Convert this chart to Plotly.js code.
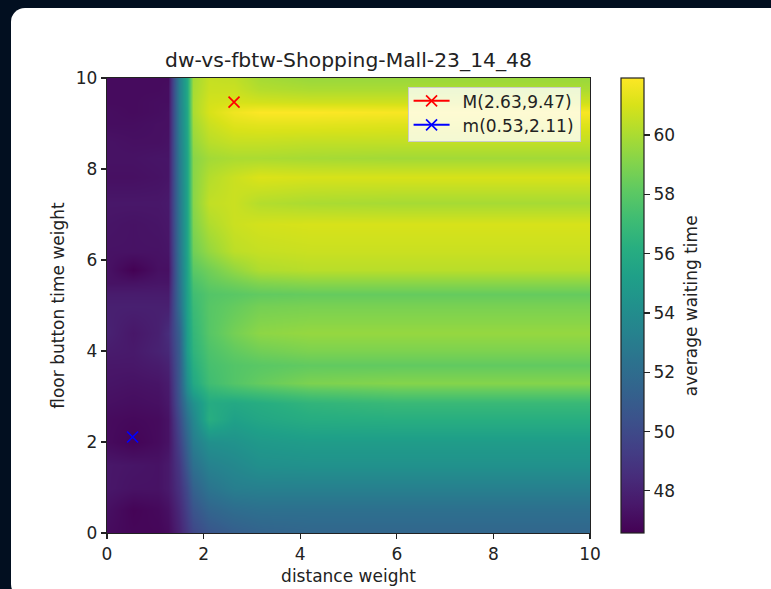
<!DOCTYPE html>
<html><head><meta charset="utf-8">
<script src="https://cdn.plot.ly/plotly-3.0.0.min.js"></script>
<style>
html,body{margin:0;padding:0;width:771px;height:589px;overflow:hidden;background:#020f20}
#card{position:absolute;left:11px;top:8px;width:775px;height:590px;background:#fff;border-radius:14px}
#plot{position:absolute;left:0;top:0;width:771px;height:589px}
</style></head><body>
<div id="card"></div><div id="plot"></div>
<script>
const chartTitle = 'dw-vs-fbtw-Shopping-Mall-23_14_48';
const distanceWeight = [0,0.53,1.05,1.26,1.5,1.66,1.78,2.11,2.63,3.16,4.2,6,10];
const floorWeight = [0,0.5,1,1.5,2,2.5,2.85,3.1,3.3,3.7,4,4.4,5,5.25,5.5,5.78,6.2,6.8,7.25,7.82,8.24,8.6,9,9.25,9.47,9.75,10];
const waitingTime = [
[47.0,46.8,46.8,47.0,48.0,49.0,49.8,50.6,51.1,51.4,51.6,51.6,51.6],
[47.2,46.7,46.9,47.2,48.3,49.5,50.5,51.5,52.0,52.2,52.2,52.2,52.2],
[47.5,47.3,47.3,47.6,48.7,50.0,51.3,52.5,53.1,53.2,53.2,53.2,53.2],
[47.5,47.4,47.3,47.6,49.0,50.8,52.2,53.3,53.7,54.2,54.3,54.3,54.3],
[47.0,46.7,47.0,47.3,49.5,51.5,53.0,54.2,54.4,54.8,55.0,55.0,55.0],
[47.0,46.9,47.0,47.3,50.0,52.3,53.6,56.2,55.3,55.7,56.1,56.2,56.2],
[47.2,47.1,47.2,47.5,50.5,53.0,54.2,56.0,55.8,56.1,56.6,56.9,56.9],
[47.3,47.2,47.3,47.6,50.7,53.8,55.2,56.6,57.0,57.3,57.8,58.1,58.1],
[47.4,47.3,47.4,47.7,50.8,54.2,55.8,57.2,57.8,58.3,58.9,59.1,59.1],
[47.5,47.5,47.7,48.0,50.9,54.6,56.2,57.4,57.8,58.0,58.2,58.2,58.2],
[47.7,47.6,48.0,48.3,51.0,55.0,56.5,57.6,58.2,58.6,58.9,58.9,58.9],
[48.0,47.5,47.9,48.5,51.2,55.1,56.7,57.9,58.7,59.3,59.5,59.5,59.5],
[47.9,47.9,47.9,47.9,52.0,55.3,57.0,57.9,58.3,58.7,58.8,58.8,58.8],
[47.7,47.7,47.7,47.7,52.1,55.3,57.2,57.8,58.0,58.2,58.3,58.3,58.3],
[47.3,47.3,47.4,47.4,52.2,55.4,57.5,58.2,58.6,59.0,59.2,59.2,59.2],
[47.3,46.6,47.2,47.2,52.3,55.4,58.0,58.6,59.4,60.1,60.3,60.3,60.3],
[47.3,47.3,47.3,47.4,52.4,55.5,58.6,59.5,60.4,60.6,60.7,60.7,60.7],
[47.4,47.3,47.4,47.5,52.5,55.5,59.0,60.1,60.7,60.9,61.0,61.0,61.0],
[47.5,47.5,47.5,47.6,52.6,55.5,59.2,60.5,60.7,60.2,60.0,59.9,59.9],
[47.2,47.2,47.3,47.4,52.7,55.5,59.2,60.2,60.7,61.1,61.0,61.0,61.0],
[47.3,47.3,47.4,47.4,52.8,55.5,59.2,59.8,60.0,60.0,59.9,59.8,59.8],
[47.3,47.2,47.2,47.3,52.9,55.6,59.5,60.3,60.6,60.6,60.5,60.5,60.5],
[47.1,47.1,47.2,47.2,53.0,55.7,59.8,60.7,61.2,61.3,61.3,61.2,61.2],
[47.1,47.0,47.1,47.2,53.0,55.7,60.0,61.0,61.6,61.9,61.9,61.8,61.8],
[47.0,47.0,47.1,47.1,53.1,55.8,60.0,60.9,61.0,60.9,60.8,60.8,60.8],
[47.0,47.0,47.0,47.1,53.1,55.8,59.9,60.7,60.7,60.2,60.0,60.0,60.0],
[47.0,47.0,47.0,47.0,53.1,55.8,59.8,60.6,60.5,59.9,59.6,59.6,59.6]
];
const maxLabel = 'M(2.63,9.47)', maxX = [2.63], maxY = [9.47];
const minLabel = 'm(0.53,2.11)', minX = [0.53], minY = [2.11];
const colorbarTicks = [48,50,52,54,56,58,60];
const axisTicks = [0,2,4,6,8,10];
const colorMin = 46.58, colorMax = 61.92;

const FONT = 'DejaVu Sans';
const TEXT = 17;
function extreme(name,x,y,color){
  return {type:'scatter',mode:'lines+markers',name,x,y,
    line:{color,width:2},
    marker:{symbol:'x-thin',size:11,color,line:{color,width:1.7}}};
}
const axisBase = {
  showgrid:false,zeroline:false,ticks:'outside',ticklen:5,tickwidth:1.2,tickcolor:'#222',
  showline:true,mirror:true,linecolor:'#222',linewidth:1.2,range:[0,10],
  tickvals:axisTicks,ticktext:axisTicks.map(String),
  tickfont:{family:FONT,size:TEXT,color:'#222'},
};
Plotly.newPlot('plot',[
 {type:'heatmap',x:distanceWeight,y:floorWeight,z:waitingTime,colorscale:'Viridis',
  zmin:colorMin,zmax:colorMax,zsmooth:'best',showlegend:false,hoverinfo:'skip',
  colorbar:{x:1.0642,xanchor:'left',xref:'paper',y:0.5,yanchor:'middle',len:1,lenmode:'fraction',
    thickness:23,thicknessmode:'pixels',xpad:0,ypad:0,outlinewidth:1.2,outlinecolor:'#222',
    ticks:'outside',ticklen:6,tickwidth:1.2,tickcolor:'#222',tickvals:colorbarTicks,
    ticktext:colorbarTicks.map(String),tickfont:{family:FONT,size:TEXT,color:'#222'}}},
 extreme(maxLabel,maxX,maxY,'#ff0000'),
 extreme(minLabel,minX,minY,'#0000ff')
],{
 width:771,height:589,autosize:false,
 paper_bgcolor:'rgba(0,0,0,0)',plot_bgcolor:'rgba(0,0,0,0)',
 margin:{l:107,r:181,t:78,b:56,pad:0},
 font:{family:FONT,color:'#222'},
 title:{text:chartTitle,font:{family:FONT,size:20.3,color:'#222'},x:0.5,xanchor:'center',xref:'paper',
   y:0.899,yanchor:'middle',yref:'container'},
 xaxis:Object.assign({},axisBase,{title:{text:'distance weight',font:{family:FONT,size:TEXT,color:'#222'},standoff:7}}),
 yaxis:Object.assign({},axisBase,{title:{text:'floor button time weight',font:{family:FONT,size:TEXT,color:'#222'},standoff:6}}),
 legend:{x:0.9805,xanchor:'right',y:0.9805,yanchor:'top',bgcolor:'rgba(255,255,255,0.8)',bordercolor:'#ccc',borderwidth:1,
   font:{family:FONT,size:TEXT,color:'#222'},tracegroupgap:0,itemwidth:45},
 annotations:[{text:'average waiting time',xref:'paper',yref:'paper',x:1.2085,y:0.5,xanchor:'center',yanchor:'middle',
   textangle:-90,showarrow:false,font:{family:FONT,size:TEXT,color:'#222'}}]
},{displayModeBar:false,staticPlot:true}).then(function(){
  // tighten the legend rows to the reference's spacing and key length
  const rowY = [14, 38];
  document.querySelectorAll('.legend .traces').forEach(function(row,i){
    row.setAttribute('transform','translate(0,'+rowY[i]+')');
    row.querySelectorAll('.legendlines path').forEach(function(p){p.setAttribute('d','M6,0h36');});
    row.querySelectorAll('.legendpoints .scatterpts').forEach(function(p){p.setAttribute('transform','translate(24,0)');});
  });
  document.querySelectorAll('.legend rect.bg').forEach(function(r){r.setAttribute('height','54');});
});
</script></body></html>
